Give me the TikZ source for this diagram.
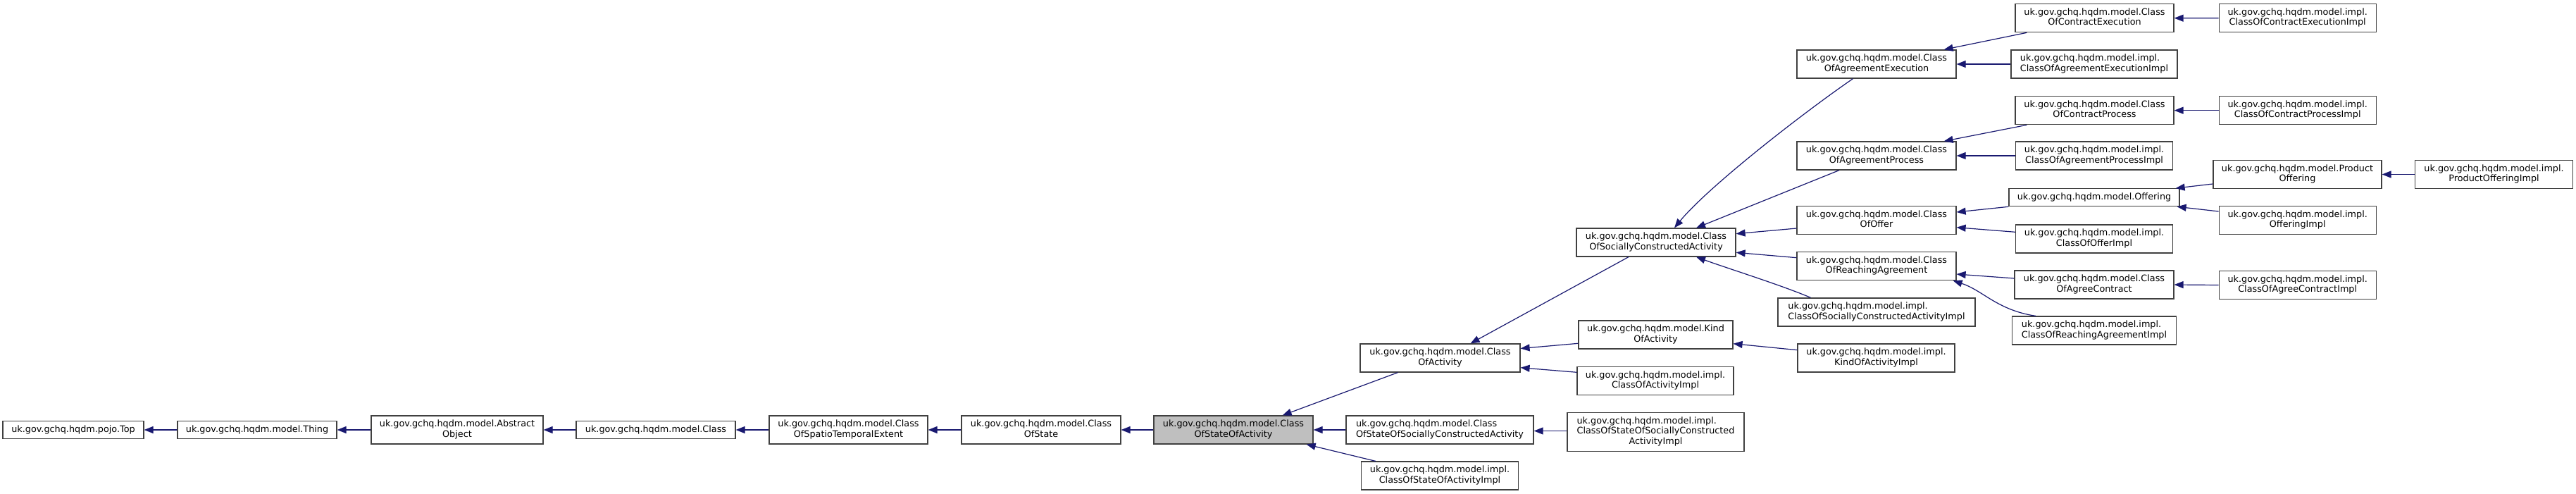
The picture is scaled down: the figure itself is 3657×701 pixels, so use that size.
\documentclass[tikz,border=0pt]{standalone}
\usepackage{fontspec}
\setmainfont{DejaVu Sans}
\usetikzlibrary{arrows.meta}
\definecolor{edgeblue}{HTML}{191970}
\definecolor{nodeborder}{HTML}{404040}
\definecolor{hl}{HTML}{BFBFBF}
\newcommand\twol[2]{\begin{tabular}{@{}l@{}}#1\\\multicolumn{1}{@{}c@{}}{#2}\end{tabular}}
\begin{document}
\begin{tikzpicture}[x=1pt,y=-1pt,
  box/.style={draw=nodeborder, line width=1.2pt, fill=white, inner sep=0pt,
    font=\fontsize{12.8}{14.5}\selectfont, align=center},
  hlbox/.style={box, fill=hl},
  wh/.style 2 args={minimum width=#1pt, minimum height=#2pt},
  edge/.style={draw=edgeblue, line width=1.2pt, {Triangle[length=13pt,width=10pt]}-}]
\useasboundingbox (0,0) rectangle (3657,701);
% main row
\node[box,wh={200}{25}] (top) at (104,610) {uk.gov.gchq.hqdm.pojo.Top};
\node[box,wh={226}{25}] (thing) at (365,610) {uk.gov.gchq.hqdm.model.Thing};
\node[box,wh={244}{40}] (abstract) at (649,610) {\twol{uk.gov.gchq.hqdm.model.Abstract}{Object}};
\node[box,wh={226}{25}] (class) at (931,610) {uk.gov.gchq.hqdm.model.Class};
\node[box,wh={225}{40}] (coste) at (1204.5,610) {\twol{uk.gov.gchq.hqdm.model.Class}{OfSpatioTemporalExtent}};
\node[box,wh={226}{40}] (costate) at (1478,610) {\twol{uk.gov.gchq.hqdm.model.Class}{OfState}};
\node[hlbox,wh={226}{40}] (cosoa) at (1751,610) {\twol{uk.gov.gchq.hqdm.model.Class}{OfStateOfActivity}};
% column 2
\node[box,wh={227}{40}] (coa) at (2044.5,508) {\twol{uk.gov.gchq.hqdm.model.Class}{OfActivity}};
\node[box,wh={266}{40}] (cososca) at (2044,610) {\twol{uk.gov.gchq.hqdm.model.Class}{OfStateOfSociallyConstructedActivity}};
\node[box,wh={223}{40}] (cosoaimpl) at (2044,675) {\twol{uk.gov.gchq.hqdm.model.impl.}{ClassOfStateOfActivityImpl}};
% column 3
\node[box,wh={251}{54.5}] (cososcaimpl) at (2350.5,613) {\twol{uk.gov.gchq.hqdm.model.impl.\\ClassOfStateOfSociallyConstructed}{ActivityImpl}};
\node[box,wh={226}{40}] (csca) at (2351,344) {\twol{uk.gov.gchq.hqdm.model.Class}{OfSociallyConstructedActivity}};
\node[box,wh={219}{40}] (koa) at (2350.5,475) {\twol{uk.gov.gchq.hqdm.model.Kind}{OfActivity}};
\node[box,wh={222}{40}] (coaimpl) at (2350,540.5) {\twol{uk.gov.gchq.hqdm.model.impl.}{ClassOfActivityImpl}};
% column 4
\node[box,wh={223}{40}] (koaimpl) at (2663.5,508) {\twol{uk.gov.gchq.hqdm.model.impl.}{KindOfActivityImpl}};
\node[box,wh={226}{40}] (coae) at (2664,91) {\twol{uk.gov.gchq.hqdm.model.Class}{OfAgreementExecution}};
\node[box,wh={226}{40}] (coap) at (2664,221) {\twol{uk.gov.gchq.hqdm.model.Class}{OfAgreementProcess}};
\node[box,wh={226}{40}] (coo) at (2664,312.7) {\twol{uk.gov.gchq.hqdm.model.Class}{OfOffer}};
\node[box,wh={226}{40}] (cora) at (2664,377.7) {\twol{uk.gov.gchq.hqdm.model.Class}{OfReachingAgreement}};
\node[box,wh={280}{40}] (cscaimpl) at (2664,443) {\twol{uk.gov.gchq.hqdm.model.impl.}{ClassOfSociallyConstructedActivityImpl}};
% column 5
\node[box,wh={225}{40}] (coce) at (2973.5,25.7) {\twol{uk.gov.gchq.hqdm.model.Class}{OfContractExecution}};
\node[box,wh={236}{40}] (coaeimpl) at (2973,91) {\twol{uk.gov.gchq.hqdm.model.impl.}{ClassOfAgreementExecutionImpl}};
\node[box,wh={225}{40}] (cocp) at (2973.5,156.7) {\twol{uk.gov.gchq.hqdm.model.Class}{OfContractProcess}};
\node[box,wh={223}{40}] (coapimpl) at (2973,221) {\twol{uk.gov.gchq.hqdm.model.impl.}{ClassOfAgreementProcessImpl}};
\node[box,wh={242}{25}] (offering) at (2973,280.2) {uk.gov.gchq.hqdm.model.Offering};
\node[box,wh={223}{40}] (cooimpl) at (2973,339) {\twol{uk.gov.gchq.hqdm.model.impl.}{ClassOfOfferImpl}};
\node[box,wh={226}{40}] (coac) at (2973,404) {\twol{uk.gov.gchq.hqdm.model.Class}{OfAgreeContract}};
\node[box,wh={233}{40}] (coraimpl) at (2973,469) {\twol{uk.gov.gchq.hqdm.model.impl.}{ClassOfReachingAgreementImpl}};
% column 6
\node[box,wh={223}{40}] (coceimpl) at (3261.7,25.8) {\twol{uk.gov.gchq.hqdm.model.impl.}{ClassOfContractExecutionImpl}};
\node[box,wh={223}{40}] (cocpimpl) at (3261.7,156.7) {\twol{uk.gov.gchq.hqdm.model.impl.}{ClassOfContractProcessImpl}};
\node[box,wh={239}{40}] (prodoff) at (3261.5,247.5) {\twol{uk.gov.gchq.hqdm.model.Product}{Offering}};
\node[box,wh={223}{40}] (offimpl) at (3261.7,312.5) {\twol{uk.gov.gchq.hqdm.model.impl.}{OfferingImpl}};
\node[box,wh={223}{40}] (coacimpl) at (3261.7,404.5) {\twol{uk.gov.gchq.hqdm.model.impl.}{ClassOfAgreeContractImpl}};
% column 7
\node[box,wh={224}{40}] (prodoffimpl) at (3540.5,247.5) {\twol{uk.gov.gchq.hqdm.model.impl.}{ProductOfferingImpl}};
% edges (arrow at parent)
\draw[edge] (top.east) -- (thing.west);
\draw[edge] (thing.east) -- (abstract.west);
\draw[edge] (abstract.east) -- (class.west);
\draw[edge] (class.east) -- (coste.west);
\draw[edge] (coste.east) -- (costate.west);
\draw[edge] (costate.east) -- (cosoa.west);
\draw[edge] ([xshift=-44pt]cosoa.north east) -- ([xshift=54pt]coa.south west);
\draw[edge] (cosoa.east) -- (cososca.west);
\draw[edge] ([xshift=-10pt]cosoa.south east) -- ([xshift=21pt]cosoaimpl.north west);
\draw[edge] ([yshift=-1.5pt]cososca.east) -- ([yshift=1.5pt]cososcaimpl.west);
\draw[edge] ([xshift=43pt]coa.north) -- ([xshift=-39pt]csca.south);
\draw[edge] ([yshift=13.5pt]coa.east) -- ([yshift=-12.3pt]koa.west);
\draw[edge] ([yshift=-13.7pt]coa.east) -- ([yshift=12.2pt]coaimpl.west);
\draw[edge] ([yshift=-12.7pt]koa.east) -- ([yshift=11.3pt]koaimpl.west);
\draw[edge] ([xshift=26pt]csca.north) .. controls (2425,265) and (2560,160) .. ([xshift=-33.4pt]coae.south);
\draw[edge] ([xshift=57pt]csca.north) -- ([xshift=-53pt]coap.south);
\draw[edge] ([yshift=12.3pt]csca.east) -- ([yshift=-11.3pt]coo.west);
\draw[edge] ([yshift=-14.3pt]csca.east) -- ([yshift=12pt]cora.west);
\draw[edge] ([xshift=57pt]csca.south) .. controls (2450,380) and (2530,405) .. ([xshift=-93.5pt]cscaimpl.north);
\draw[edge] ([xshift=-18pt]coae.north east) -- ([xshift=17pt]coce.south west);
\draw[edge] (coae.east) -- (coaeimpl.west);
\draw[edge] (coce.east) -- (coceimpl.west);
\draw[edge] ([xshift=-18pt]coap.north east) -- ([xshift=17pt]cocp.south west);
\draw[edge] (coap.east) -- (coapimpl.west);
\draw[edge] (cocp.east) -- (cocpimpl.west);
\draw[edge] ([yshift=11.7pt]coo.east) -- (offering.south west);
\draw[edge] ([yshift=-10pt]coo.east) -- ([yshift=9.7pt]cooimpl.west);
\draw[edge] ([xshift=-6pt]offering.north east) -- ([yshift=-13.5pt]prodoff.west);
\draw[edge] ([xshift=-4pt]offering.south east) -- ([yshift=12.5pt]offimpl.west);
\draw[edge] (prodoff.east) -- (prodoffimpl.west);
\draw[edge] ([yshift=-11.3pt]cora.east) -- ([yshift=9pt]coac.west);
\draw[edge] ([xshift=-5pt]cora.south east) .. controls (2815,412) and (2835,440) .. ([xshift=-83pt]coraimpl.north);
\draw[edge] (coac.east) -- (coacimpl.west);
\end{tikzpicture}
\end{document}
